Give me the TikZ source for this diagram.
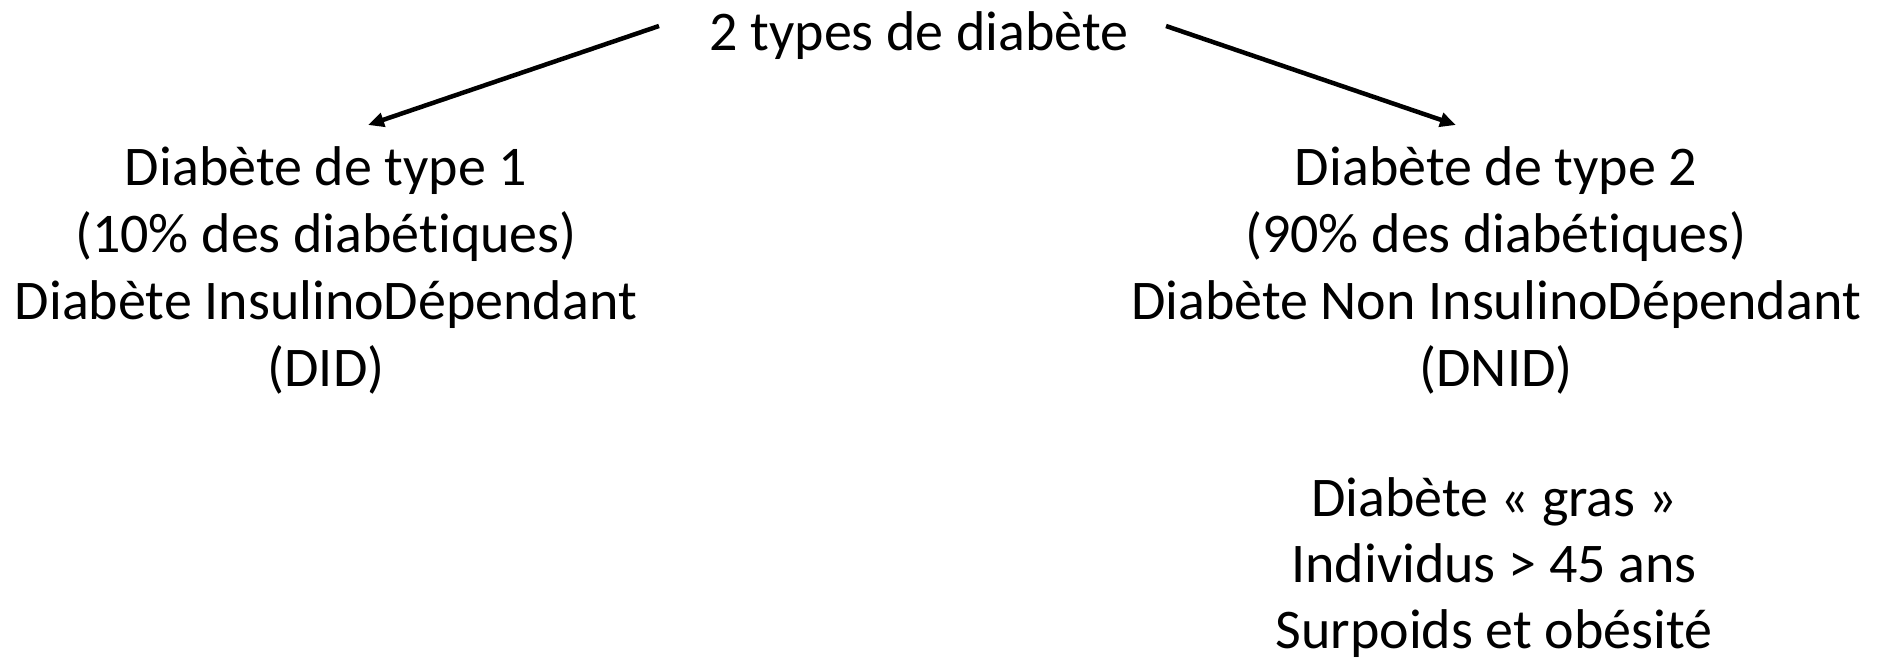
\documentclass[tikz,border=0pt]{standalone}
\usepackage{fontspec}
\setmainfont[RawFeature=-liga]{Carlito}
\usetikzlibrary{arrows.meta}
\tikzset{
  txt/.style={anchor=base, inner sep=0pt, font=\fontsize{56}{64}\selectfont},
  conn/.style={line width=4.5pt, -{Triangle[length=16pt,width=14pt]}}
}
\begin{document}
\begin{tikzpicture}[x=1pt,y=-1pt]
\useasboundingbox (0,0) rectangle (1881,662);
\node[txt] (top) at (919,50) {2 types de diabète};
\node[txt] (l1) at (326,185) {Diabète de type 1};
\node[txt] (l2) at (326,252) {(10\% des diabétiques)};
\node[txt] (l3) at (326,319) {Diabète InsulinoDépendant};
\node[txt] (l4) at (326,386) {(DID)};
\node[txt] (r1) at (1496,185) {Diabète de type 2};
\node[txt] (r2) at (1496,252) {(90\% des diabétiques)};
\node[txt] (r3) at (1496,319) {Diabète Non InsulinoDépendant};
\node[txt] (r4) at (1496,386) {(DNID)};
\node[txt] (b1) at (1494,516) {Diabète « gras »};
\node[txt] (b2) at (1494,582) {Individus > 45 ans};
\node[txt] (b3) at (1494,648) {Surpoids et obésité};
\coordinate (ls) at (659,26);
\coordinate (le) at (368,125);
\coordinate (rs) at (1166,26);
\coordinate (re) at (1456,125);
\draw[conn] (ls) -- (le);
\draw[conn] (rs) -- (re);
\end{tikzpicture}
\end{document}
